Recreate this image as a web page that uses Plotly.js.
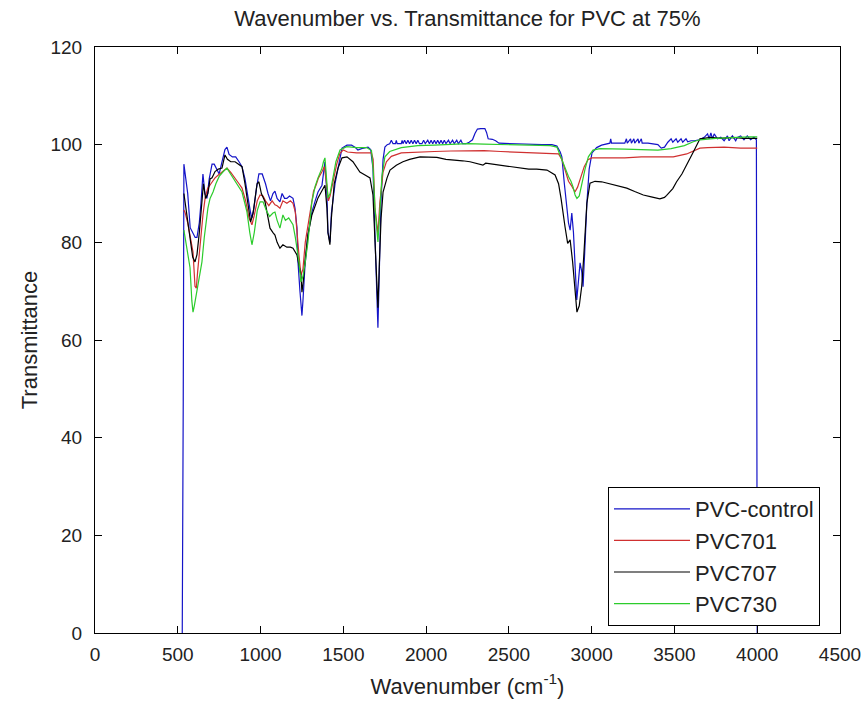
<!DOCTYPE html>
<html>
<head>
<meta charset="utf-8">
<script src="https://cdn.plot.ly/plotly-3.0.1.min.js"></script>
<style>html,body{margin:0;padding:0;background:#fff;}#chart{width:865px;height:704px;}</style>
</head>
<body>
<div id="chart"></div>
<script>
// Legend / series names
var seriesNames = ["PVC-control", "PVC701", "PVC707", "PVC730"];

// PVC-control (blue)
var wnControl = [527,529,533,537,545,560,575,590,605,616,630,640,652,664,676,690,707,720,735,750,767,785,797,810,830,850,870,888,906,924,940,948,960,975,990,1010,1030,1045,1060,1075,1087,1100,1117,1130,1145,1159,1175,1196,1208,1220,1226,1238,1250,1256,1268,1286,1310,1330,1347,1371,1380,1389,1395,1401,1407,1419,1428,1437,1450,1468,1492,1522,1550,1570,1588,1610,1630,1649,1665,1679,1691,1703,1709,1718,1727,1740,1751,1765,1780,1790,1800,1815,1820,1825,1850,1855,1860,1870,1880,1890,1900,1910,1920,1930,1940,1950,1960,1975,1985,1995,2010,2020,2030,2040,2050,2060,2070,2080,2090,2100,2110,2120,2135,2145,2160,2170,2185,2195,2210,2220,2240,2260,2280,2295,2310,2330,2355,2365,2375,2400,2420,2440,2500,2600,2700,2760,2790,2810,2820,2835,2850,2860,2870,2880,2890,2900,2910,2920,2930,2940,2948,2958,2971,2985,3002,3030,3060,3110,3115,3120,3200,3210,3215,3235,3240,3255,3260,3280,3285,3300,3305,3340,3400,3420,3440,3460,3480,3490,3510,3520,3540,3550,3570,3580,3600,3620,3650,3680,3700,3710,3720,3730,3740,3760,3780,3800,3820,3830,3850,3870,3880,3900,3920,3940,3960,3980,3995,4000];
var tControl = [0,47,47.5,96,94,90,83,82,81,81,84,88,94,90,89,93,96,96,95,94,96.5,99,99.5,98,97.5,97.5,96.5,95.5,93,89,86,85,87,91,94,94,92,90,88.5,90,90.5,89,88.3,90,89,89,89.5,89,87,83,76,70,65,68,75,81.5,86.2,88.5,90.3,91.7,94,96.5,93,89.7,82,80,86,88.3,92,95.2,99.3,99.9,99.9,99.5,98.9,99.2,99.3,99.5,99,95.2,81.5,69,62.5,75,88,97,99.5,100,100.2,100.9,100.2,100.2,100.9,100.2,100.2,100.9,100.2,100.9,100.2,100.9,100.2,100.9,100.2,100.9,100.2,100.9,100.2,100.2,100.9,100.2,100.9,100.2,100.9,100.2,100.9,100.2,100.9,100.2,100.9,100.2,100.9,100.2,100.9,100.2,100.9,100.2,100.9,100.2,100.9,100.2,100.2,100.5,101,102.3,103.2,103.3,103.3,102.5,101.2,101.1,100.8,100.3,100.2,100.1,100,100,99.7,98.5,97.5,92,87,84,82.5,86,82,74,68.2,72,75.8,74,70.9,78,88,95,98.3,99.4,99.9,100.3,101.2,100.3,100.3,101.2,100.3,101.2,100.3,101.2,100.3,101.2,100.3,101.2,100.3,100.3,100,99.3,99.5,100.5,101.2,100.5,101.2,100.5,101.2,100.5,101.2,100.6,100.8,100.8,101,101.5,102.2,101.2,102.4,101.2,102.2,101.2,101.5,100.8,101.8,100.8,101.8,100.8,101.5,101.8,101,101.8,101,101.5,101,0];

// PVC701 (red)
var wn701 = [537,545,560,575,592,604,612,620,635,652,665,680,700,725,745,767,797,820,846,870,888,910,930,948,962,980,997,1015,1030,1050,1070,1087,1100,1117,1135,1159,1180,1196,1210,1220,1232,1244,1256,1270,1298,1320,1335,1350,1370,1385,1400,1410,1420,1440,1460,1480,1500,1525,1580,1640,1670,1680,1691,1703,1709,1720,1740,1760,1790,1850,1950,2050,2150,2250,2350,2450,2550,2650,2750,2800,2820,2840,2860,2880,2899,2915,2935,2955,2978,3000,3100,3200,3300,3400,3493,3574,3654,3700,3800,3900,4000];
var t701 = [86.6,86,84,81,78,71,70.6,74,80,85.6,89,91,92,93.2,93.8,94.4,95.2,94.3,93.2,92,91.1,88.5,85,83.6,85.5,88.5,89.7,89.5,88.5,87.5,88.5,87.7,87.5,87,88.5,88,88.5,88,86.2,81.5,77.4,73.3,74.5,80,86.2,90.5,91.7,93.2,94.4,95.5,91.7,88.5,89.5,92.5,96,98.3,98.9,98.5,98.3,98.3,98.3,97,87,83.6,81.5,88,94.4,96.5,97.6,98.3,98.5,98.6,98.7,98.8,98.8,98.6,98.5,98.4,98.3,98.1,97,94.5,92.5,91.5,90.3,91.3,93.5,95.5,96.9,97.3,97.3,97.3,97.5,97.5,97.5,98.1,99.3,99.4,99.5,99.3,99.3];

// PVC707 (black)
var wn707 = [537,545,560,575,590,604,616,630,645,655,668,682,695,707,725,745,767,785,800,820,846,870,888,906,924,940,955,968,979,990,1005,1027,1045,1057,1075,1087,1100,1117,1135,1159,1180,1196,1220,1232,1244,1250,1258,1268,1286,1310,1330,1347,1370,1389,1401,1407,1419,1428,1445,1468,1492,1522,1558,1600,1631,1661,1679,1691,1703,1709,1718,1728,1740,1764,1782,1820,1860,1900,1963,2065,2120,2162,2220,2265,2320,2343,2360,2400,2464,2520,2567,2620,2668,2730,2779,2800,2815,2830,2839,2855,2870,2885,2899,2911,2925,2940,2952,2960,2971,2990,3020,3060,3110,3160,3212,3260,3312,3360,3412,3440,3453,3490,3513,3545,3574,3614,3654,3680,3720,3780,3850,3920,4000];
var t707 = [90,88,84,80,77,76,77.5,82,88,92,89,90,93,93.2,94.5,95,95.2,97.9,97,96.5,96.5,96,95.5,92,87.7,84.2,86,89.5,92,92.4,90,88.3,85,82.9,82,81.5,80,78.8,79.5,79,79,78.8,77.4,75.5,73.3,69.8,72,76,81.5,85.6,87.5,89.1,90.5,91.7,87,82.1,79.5,85,92,95.2,97.3,97.5,96.5,94.4,93.8,93.2,89.7,80,71.3,66.6,76,85,90.3,93.2,94.8,95.8,96.5,97,97.5,97.4,97,96.9,96.7,96.5,96,95.8,96.2,96,95.8,95.4,95.2,95,95,94.8,93.8,92,89,85,83.2,79.8,80.5,76,69.6,65.7,67,71,77,81,88,92.1,92.5,92.4,92,91.6,91.1,90.4,89.7,89.3,88.9,89.2,89.6,91,92.4,94,95.8,98.5,101.2,101.3,101.5,101.3,101.5,101.3,101.3];

// PVC730 (green)
var wn730 = [537,550,565,574,585,592,600,610,622,635,646,660,672,682,695,713,730,750,775,797,815,834,860,888,905,918,935,948,962,980,997,1015,1035,1055,1075,1087,1100,1117,1135,1150,1170,1196,1210,1220,1232,1244,1256,1268,1286,1310,1330,1347,1371,1380,1389,1401,1407,1420,1440,1455,1480,1520,1580,1640,1670,1680,1691,1703,1709,1720,1733,1751,1780,1850,1950,2050,2150,2250,2350,2450,2550,2650,2750,2790,2820,2840,2860,2875,2887,2900,2911,2925,2940,2960,2980,3008,3050,3110,3200,3300,3400,3480,3560,3614,3654,3750,3850,3950,4000];
var t730 = [82.5,80,77,74.8,68,65.7,67,69,71.9,74,76,81,85,87,89,90.3,92,93.5,94.5,95.2,94.2,93.2,92,90.3,88,86.2,82,79.5,82,86.5,88.3,88.3,86.5,85.3,86,86.2,84.5,82.9,85.6,84.5,85,83.6,81,78.8,76,71.9,73,75.5,80,88.3,91.5,93.2,95.2,96.5,97.3,92,89.1,90,94,96.5,98.9,99.6,99.4,99.4,98.8,95,87,81.5,80.1,86,93.5,97.5,98.6,99.4,99.8,99.9,100,100.2,100.1,100,100,99.9,99.8,99.5,96.9,95,93.5,92.5,91.4,89.7,89,89.5,92,95,97.5,98.9,99.2,99.2,99.1,99,98.9,99.2,99.8,100.6,101,101.3,101.5,101.6,101.6];

// Axis ticks
var xTicks = [0,500,1000,1500,2000,2500,3000,3500,4000,4500];
var yTicks = [0,20,40,60,80,100,120];

var FONT = "Liberation Sans, Arial, Helvetica, sans-serif";
var colors = ["#1414c8", "#d03030", "#000000", "#2ccc2c"];
var xs = [wnControl, wn701, wn707, wn730];
var ys = [tControl, t701, t707, t730];

var traces = seriesNames.map(function (name, i) {
  return {
    type: "scatter",
    mode: "lines",
    name: name,
    x: xs[i],
    y: ys[i],
    line: { color: colors[i], width: 1.2 },
    hoverinfo: "skip"
  };
});

var axisCommon = {
  showgrid: false,
  zeroline: false,
  showline: true,
  linecolor: "#000",
  linewidth: 1,
  mirror: "allticks",
  ticks: "inside",
  ticklen: 7,
  tickcolor: "#000",
  tickfont: { family: FONT, size: 19, color: "#222" },
  automargin: false
};

var layout = {
  width: 865,
  height: 704,
  paper_bgcolor: "#fff",
  plot_bgcolor: "#fff",
  margin: { l: 95, r: 25, t: 47, b: 71 },
  showlegend: true,
  title: {
    text: "Wavenumber vs. Transmittance for PVC at 75%",
    font: { family: FONT, size: 22, color: "#222" },
    x: 0.5, xref: "paper", xanchor: "center",
    y: 1 - 18 / 704, yref: "container", yanchor: "middle"
  },
  xaxis: Object.assign({}, axisCommon, {
    range: [0, 4500],
    tickvals: xTicks,
    ticktext: xTicks.map(String),
    ticklabelstandoff: 4,
    title: { text: "Wavenumber (cm<sup>-1</sup>)", font: { family: FONT, size: 22, color: "#222" }, standoff: 14 }
  }),
  yaxis: Object.assign({}, axisCommon, {
    range: [0, 120],
    tickvals: yTicks,
    ticktext: yTicks.map(String),
    ticklabelstandoff: 8,
    title: { text: "Transmittance", font: { family: FONT, size: 22, color: "#222" }, standoff: 6 }
  }),
  legend: {
    x: (608 - 95) / 745, xanchor: "left",
    y: (633 - 487) / 586, yanchor: "top",
    bgcolor: "#fff",
    bordercolor: "#000",
    borderwidth: 1,
    font: { family: FONT, size: 22, color: "#222" },
    itemwidth: 76,
    tracegroupgap: 0
  }
};

Plotly.newPlot("chart", traces, layout, { staticPlot: true, displayModeBar: false });
</script>
</body>
</html>
